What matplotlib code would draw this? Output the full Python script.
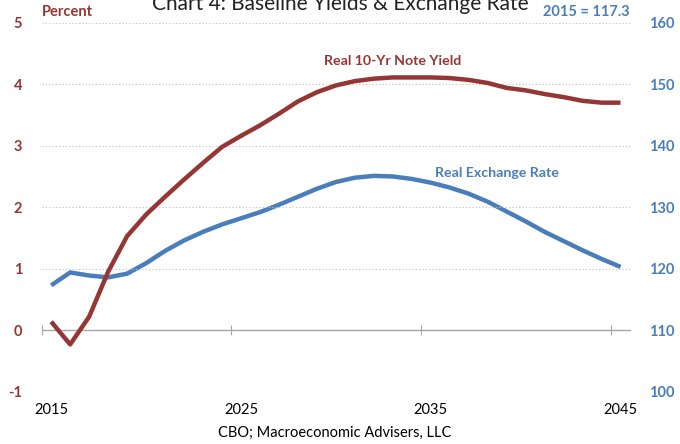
import matplotlib.pyplot as plt
import numpy as np

plt.rcParams['font.family'] = ['Lato', 'DejaVu Sans']

# Daten ab Bild geschaetzt
years = list(range(2015, 2046))
note_yield = [0.14, -0.23, 0.22, 0.95, 1.53, 1.88, 2.17, 2.45, 2.72, 2.98,
              3.16, 3.33, 3.52, 3.72, 3.87, 3.98, 4.05, 4.09, 4.11, 4.11,
              4.11, 4.10, 4.07, 4.02, 3.94, 3.90, 3.84, 3.79, 3.73, 3.70, 3.70]
exch_rate = [117.3, 119.4, 118.9, 118.6, 119.2, 120.9, 122.9, 124.6, 126.0, 127.2,
             128.2, 129.2, 130.4, 131.7, 133.0, 134.1, 134.8, 135.1, 135.0, 134.6,
             134.0, 133.2, 132.2, 130.9, 129.3, 127.7, 126.0, 124.5, 123.0, 121.6, 120.3]
x_labels = [2015, 2025, 2035, 2045]
left_ticks = [-1, 0, 1, 2, 3, 4, 5]
right_ticks = [100, 110, 120, 130, 140, 150, 160]

red = '#963634'
blue = '#4A7EBB'

fig = plt.figure(figsize=(6.8, 4.44), dpi=100)
ax = fig.add_axes([0.0613, 0.1176, 0.8652, 0.8313])
ax2 = ax.twinx()

ax.set_xlim(2014.5, 2045.5)
ax.set_ylim(-1, 5)
ax2.set_ylim(100, 160)

for a in (ax, ax2):
    for s in a.spines.values():
        s.set_visible(False)

# gitterlinjer
for t in left_ticks:
    if t != 0:
        ax.axhline(t, color='#BFBFBF', lw=0.8, ls=(0, (1, 2)), zorder=0)

ax.set_yticks(left_ticks)
ax.set_yticklabels([str(t) for t in left_ticks])
ax.tick_params(axis='y', length=0, pad=14, labelcolor=red, labelsize=10.5)
for l in ax.get_yticklabels():
    l.set_fontweight('bold')

ax2.set_yticks(right_ticks)
ax2.tick_params(axis='y', length=0, pad=14, labelcolor=blue, labelsize=10.5)
for l in ax2.get_yticklabels():
    l.set_fontweight('bold')

ax.set_xticks(x_labels)
ax.tick_params(axis='x', length=0, pad=8, labelsize=10.5, labelcolor='black')

# nollinje med tick-streck
zero_ax = ax.secondary_xaxis(1 / 6)
zero_ax.spines['bottom'].set_color('#A6A6A6')
zero_ax.spines['bottom'].set_linewidth(1.0)
zero_ax.set_xticks([2014.5, 2024.5, 2034.5, 2044.5])
zero_ax.set_xticklabels([])
zero_ax.tick_params(axis='x', direction='inout', length=7, color='#A6A6A6', width=0.8)

ax2.plot(years, exch_rate, color=blue, lw=3.2, solid_capstyle='butt', zorder=3)
ax.plot(years, note_yield, color=red, lw=3.2, solid_capstyle='butt', zorder=3)
ax.set_zorder(ax2.get_zorder() + 1)
ax.patch.set_visible(False)

ax.text(2033.0, 4.38, 'Real 10-Yr Note Yield', color=red, fontsize=10.2,
        fontweight='bold', ha='center', va='center')
ax2.text(2038.5, 135.5, 'Real Exchange Rate', color=blue, fontsize=10.2,
         fontweight='bold', ha='center', va='center')
ax.text(2014.5, 5.18, 'Percent', color=red, fontsize=10.5, fontweight='bold',
        ha='left', va='center')
ax2.text(2045.5, 161.8, '2015 = 117.3', color=blue, fontsize=10.5,
         fontweight='bold', ha='right', va='center')

fig.text(0.5, 1 - 10 / 444, 'Chart 4: Baseline Yields & Exchange Rate',
         fontsize=15, ha='center', va='baseline', color='#222222')
fig.text(335 / 680, 1 - 433 / 444, 'CBO; Macroeconomic Advisers, LLC',
         fontsize=10.5, ha='center', va='center')

fig.savefig('out.png', dpi=100)
